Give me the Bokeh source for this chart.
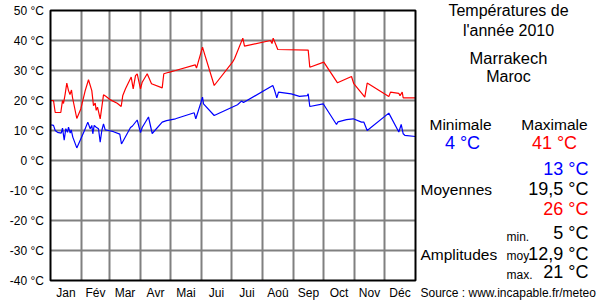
from bokeh.plotting import figure
from bokeh.models import Range1d
from bokeh.core.properties import value
from bokeh.embed import file_html
from bokeh.resources import INLINE

# ---------------- data ----------------
months = ["Jan", "Fév", "Mar", "Avr", "Mai", "Jui", "Jui", "Aoû", "Sep", "Oct", "Nov", "Déc"]
month_starts = [0, 31, 59, 90, 120, 151, 181, 212, 243, 273, 304, 334, 365]
y_ticks = [-40, -30, -20, -10, 0, 10, 20, 30, 40, 50]
y_tick_labels = ["-40 °C", "-30 °C", "-20 °C", "-10 °C", "0 °C", "10 °C", "20 °C", "30 °C", "40 °C", "50 °C"]

max_days = [0.5, 3, 4.7, 10.3, 12, 13, 14.7, 16.3, 18, 19.5, 21, 22, 26.3, 30.3, 34.7, 38,
            41.3, 43, 44.7, 45.7, 47, 49.7, 53, 55.3, 60, 66.7, 70.7, 72.3, 75, 80.7, 82.7,
            85, 86.7, 90, 91.7, 96.7, 101, 111.7, 113.3, 118.3, 125, 144.7, 146, 152,
            154.7, 163.7, 182, 184, 192.3, 194, 220, 221.5, 222.7, 227.3, 257.7, 259.3,
            273.3, 287, 301, 303.3, 311.7, 314.3, 316.7, 338.3, 340, 348.3, 349.5, 351.7,
            352.7, 365]
max_temps = [20, 20, 16, 16, 20, 19, 22.2, 25.8, 23.3, 22, 23.5, 21, 14, 17.2, 23.3, 26.9,
             23.3, 18.3, 19.1, 16.7, 17.8, 13.9, 21.9, 21.4, 20.2, 19.1, 18, 21.7, 23.9,
             27.8, 23.9, 28.3, 28.9, 23.9, 26.1, 28.9, 25.6, 24.2, 28.9, 29.4, 30, 31.9,
             30.8, 37.8, 34.8, 25, 32.8, 33.9, 40.8, 38.1, 40, 39, 40.8, 37, 36.8, 31.1,
             32.8, 25.9, 28, 25.6, 22.2, 21.1, 25.8, 21.3, 22.8, 22.4, 21.6, 22.8, 20.9, 20.9]

min_days = [0.7, 3, 4.7, 7, 10.7, 12, 13.7, 15.3, 17, 18, 19.7, 20.7, 22.3, 26.3, 34, 37.3,
            39.7, 41.3, 42.3, 43.7, 45.7, 48, 49.7, 51.3, 53, 54.7, 58, 63, 69.3, 71, 80,
            82, 86.7, 90, 91.7, 98, 101.7, 111.7, 116, 125, 143.7, 145.3, 150.3, 152, 153,
            163.7, 187, 191, 193, 222.3, 224, 226.3, 228, 240.7, 249, 256.7, 257.7, 259.3,
            272.7, 286, 287.5, 296, 302.7, 311, 313.3, 316.7, 338.3, 348.3, 350.7, 352.7,
            354.3, 365]
min_temps = [11.9, 11.7, 10, 9.4, 9.1, 10.8, 6.8, 10.6, 9.4, 11.1, 9.1, 10.2, 7.8, 4.2, 10,
             12.8, 10.6, 11.7, 8.9, 11.7, 11.1, 10.6, 6.1, 10, 12.2, 10.2, 10, 9.6, 8.8, 5.5,
             11, 11.5, 13.5, 9.3, 11, 14.5, 9, 12.8, 13.3, 13.9, 15.9, 13.9, 19.2, 21.1,
             18.9, 15, 18.6, 19.8, 19.3, 25, 23.5, 20.9, 22.8, 22.2, 21.4, 21.6, 22.2, 18,
             18.9, 12, 12.9, 13.6, 13.9, 12.8, 12.8, 10, 15.8, 9.5, 12, 8.9, 8.4, 8]

FONT = value("Liberation Sans")

# Canvas-wide frame: 1 px per day horizontally, 3 px per degree vertically.
# Plot area spans days 0..365 and -40..50 °C (pixels 50..415 x 10..280).
p = figure(width=600, height=300, output_backend="svg", toolbar_location=None,
           x_range=Range1d(-50, 550), y_range=Range1d(-40 - 20 / 3, 50 + 10 / 3),
           x_axis_type=None, y_axis_type=None, min_border=0)
p.outline_line_color = None
p.background_fill_color = "white"
p.border_fill_color = "white"

x_lo, x_hi = month_starts[0], month_starts[-1]
y_lo, y_hi = y_ticks[0], y_ticks[-1]

# grid
vx = month_starts[1:-1]
p.segment(x0=vx, y0=[y_lo] * len(vx), x1=vx, y1=[y_hi] * len(vx),
          line_color="#808080", line_width=2)
hy = y_ticks[1:-1]
p.segment(x0=[x_lo] * len(hy), y0=hy, x1=[x_hi] * len(hy), y1=hy,
          line_color="#808080", line_width=2)

# series
p.line(max_days, max_temps, line_color="#ff0000", line_width=1.2)
p.line(min_days, min_temps, line_color="#0000ff", line_width=1.2)

# plot-area border
p.quad(left=[x_lo], right=[x_hi], bottom=[y_lo], top=[y_hi],
       fill_color=None, line_color="black", line_width=2)

# axis labels
p.text(x=[x_lo - 6.5] * len(y_ticks), y=y_ticks, text=y_tick_labels,
       text_font=FONT, text_font_size="12px", text_color="black",
       text_align="right", text_baseline="middle")
month_centers = [(month_starts[i] + month_starts[i + 1]) / 2 for i in range(12)]
p.text(x=month_centers, y=[y_lo - 12.7 / 3] * 12, text=months,
       text_font=FONT, text_font_size="12px", text_color="black",
       text_align="center", text_baseline="middle")

# side panel (pixel positions of text centre lines -> data units)
X0, Y0 = 50, 160


def t(px, py, s, size="15.5px", color="black", align="center"):
    p.text(x=[px - X0], y=[(Y0 - py) / 3.0], text=[s], text_font=FONT,
           text_font_size=size, text_color=color, text_align=align,
           text_baseline="middle")


t(508, 9.5, "Températures de", size="16px")
t(508, 29.5, "l'année 2010", size="16px")
t(508, 57.5, "Marrakech", size="16.5px")
t(508, 76, "Maroc", size="16px")
t(460, 124, "Minimale")
t(554, 124, "Maximale")
t(462, 142, "4 °C", size="18px", color="#0000ff")
t(554, 142, "41 °C", size="18px", color="#ff0000")
t(588, 168.5, "13 °C", size="18px", color="#0000ff", align="right")
t(420, 189, "Moyennes", align="left")
t(588, 188.5, "19,5 °C", size="18px", align="right")
t(588, 208, "26 °C", size="18px", color="#ff0000", align="right")
t(506, 236, "min.", size="12px", align="left")
t(588, 232.5, "5 °C", size="18px", align="right")
t(420, 254, "Amplitudes", align="left")
t(506, 255.7, "moy.", size="12px", align="left")
t(588, 253.5, "12,9 °C", size="18px", align="right")
t(506, 274.7, "max.", size="12px", align="left")
t(588, 271.5, "21 °C", size="18px", align="right")
t(420, 292.7, "Source : www.incapable.fr/meteo", size="12px", align="left")

open("out.html", "w").write(file_html(p, INLINE))
